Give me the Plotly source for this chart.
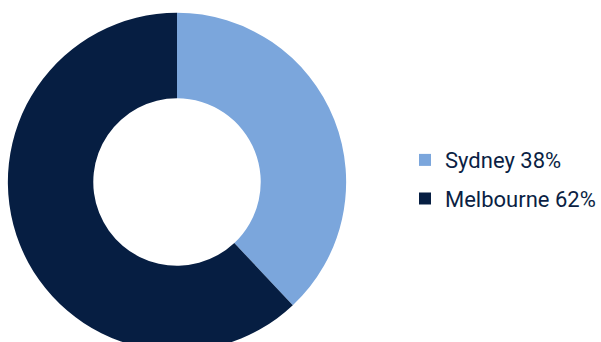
import plotly.graph_objects as go

categories = ["Sydney", "Melbourne"]
values = [38, 62]
colors = ["#7ba6dc", "#061e42"]

fig = go.Figure()
fig.add_trace(go.Pie(
    labels=categories, values=values,
    marker=dict(colors=colors, line=dict(width=0)),
    hole=0.495, sort=False, direction="clockwise", rotation=0,
    textinfo="none", hoverinfo="label+percent", showlegend=False,
    domain=dict(x=[8/601, 352/601], y=[0, 1]),
))
for cat, val, col in zip(categories, values, colors):
    fig.add_trace(go.Scatter(
        x=[None], y=[None], mode="markers",
        marker=dict(symbol="square", size=12, color=col, line=dict(width=0)),
        name=f"{cat} {val}%", legendgroup=cat, showlegend=True,
    ))

fig.update_layout(
    width=601, height=364,
    margin=dict(l=0, r=0, t=10, b=10),
    paper_bgcolor="white", plot_bgcolor="white",
    xaxis=dict(visible=False), yaxis=dict(visible=False),
    showlegend=True,
    legend=dict(x=412/601, xanchor="left", y=0.507, yanchor="middle",
                font=dict(family="Roboto", size=22, color="#0b1f44"),
                tracegroupgap=7, bgcolor="rgba(0,0,0,0)"),
)
fig.write_html(
    "out.html",
    config={"displayModeBar": False},
    post_script="document.body.style.margin='0';document.body.style.overflow='hidden';",
)
